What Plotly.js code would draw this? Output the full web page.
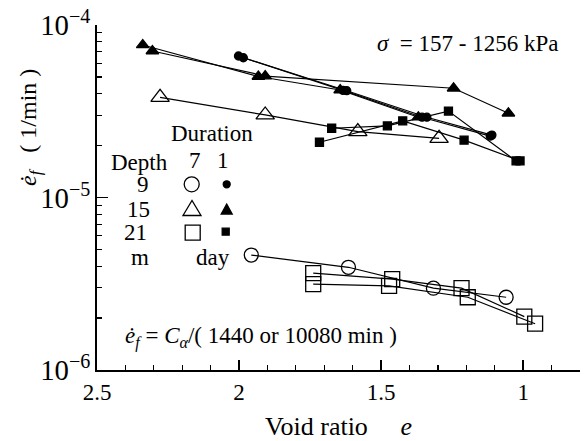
<!DOCTYPE html>
<html><head><meta charset="utf-8">
<script src="https://cdn.plot.ly/plotly-3.0.1.min.js"></script>
<style>html,body{margin:0;padding:0;background:#fff;}</style>
</head><body>
<div id="chart" style="width:586px;height:441px;"></div>
<script>
// ---- data (void ratio e, strain rate 1/min) ----
const d9_7_x  = [1.957, 1.615, 1.316, 1.060];
const d9_7_y  = [4.64e-6, 3.94e-6, 2.98e-6, 2.64e-6];
const d9_1a_x = [2.002, 1.634, 1.356, 1.116];
const d9_1a_y = [6.61e-5, 4.18e-5, 2.92e-5, 2.27e-5];
const d9_1b_x = [1.985, 1.621, 1.339, 1.110];
const d9_1b_y = [6.46e-5, 4.16e-5, 2.92e-5, 2.30e-5];
const d15_7_x  = [2.278, 1.908, 1.582, 1.296];
const d15_7_y  = [3.81e-5, 3.01e-5, 2.41e-5, 2.20e-5];
const d15_1a_x = [2.339, 1.932, 1.644, 1.369];
const d15_1a_y = [7.66e-5, 5.03e-5, 4.20e-5, 2.92e-5];
const d15_1b_x = [2.305, 1.908, 1.245, 1.052];
const d15_1b_y = [7.07e-5, 5.06e-5, 4.30e-5, 3.08e-5];
const d21_7a_x = [1.739, 1.461, 1.217, 0.996];
const d21_7a_y = [3.64e-6, 3.36e-6, 2.98e-6, 2.04e-6];
const d21_7b_x = [1.739, 1.472, 1.195, 0.958];
const d21_7b_y = [3.15e-6, 3.07e-6, 2.64e-6, 1.855e-6];
const d21_1a_x = [1.674, 1.478, 1.263, 1.025];
const d21_1a_y = [2.52e-5, 2.60e-5, 3.17e-5, 1.63e-5];
const d21_1b_x = [1.717, 1.424, 1.208, 1.011];
const d21_1b_y = [2.09e-5, 2.78e-5, 2.15e-5, 1.63e-5];
const xTickVals = [2.5, 2, 1.5, 1];
const xTickText = ['2.5', '2', '1.5', '1'];

const FONT = '"Liberation Serif", "Times New Roman", "DejaVu Serif", serif';
const L = 97, R = 580, T = 25, B = 370;
const px = x => (x - L) / (R - L);
const py = y => (B - y) / (B - T);

function tr(x, y, sym, size, lw) {
  return {x: x, y: y, type: 'scatter', mode: 'lines+markers', showlegend: false,
    line: {color: '#000', width: 1.2},
    marker: {symbol: sym, size: size, color: '#000', line: {color: '#000', width: lw || 1.3}}};
}
const traces = [
  tr(d9_7_x, d9_7_y, 'circle-open', 14),
  tr(d9_1a_x, d9_1a_y, 'circle', 8, 0),
  tr(d9_1b_x, d9_1b_y, 'circle', 8, 0),
  tr(d15_7_x, d15_7_y, 'triangle-up-open', 16),
  tr(d15_1a_x, d15_1a_y, 'triangle-up', 11, 0),
  tr(d15_1b_x, d15_1b_y, 'triangle-up', 11, 0),
  tr(d21_7a_x, d21_7a_y, 'square-open', 15),
  tr(d21_7b_x, d21_7b_y, 'square-open', 15),
  tr(d21_1a_x, d21_1a_y, 'square', 8, 0),
  tr(d21_1b_x, d21_1b_y, 'square', 8, 0)
];

function ann(text, x, y, xa, size, extra) {
  return Object.assign({text: text, x: px(x), y: py(y), xref: 'paper', yref: 'paper',
    xanchor: xa || 'center', yanchor: 'middle', showarrow: false,
    font: {family: FONT, size: size || 23, color: '#000'}}, extra || {});
}
const annotations = [
  ann('<i>σ</i>  = 157 - 1256 kPa', 467, 43),
  ann('Duration', 212, 133),
  ann('Depth', 139, 162),
  ann('7', 195, 160),
  ann('1', 223, 160),
  ann('9', 143, 185),
  ann('15', 138, 209),
  ann('21', 135, 233),
  ann('m', 140, 257),
  ann('day', 213, 257),
  ann('<i>ė</i><sub><i>f</i></sub> = <i>C</i><sub><i>α</i></sub>/( 1440 or 10080 min )', 123, 337, 'left'),
  ann('<i>ė</i><sub><i>f</i></sub>\u00a0\u00a0\u00a0( 1/min )', 30, 128, 'center', 24, {textangle: -90})
];

// legend symbols (layout decoration)
function circ(cx, cy, d, filled) {
  const rx = d / 2 / (R - L), ry = d / 2 / (B - T);
  return {type: 'circle', xref: 'paper', yref: 'paper', x0: px(cx) - rx, x1: px(cx) + rx,
    y0: py(cy) - ry, y1: py(cy) + ry, line: {color: '#000', width: 1.3},
    fillcolor: filled ? '#000' : 'rgba(0,0,0,0)'};
}
function rect(cx, cy, s, filled) {
  const rx = s / 2 / (R - L), ry = s / 2 / (B - T);
  return {type: 'rect', xref: 'paper', yref: 'paper', x0: px(cx) - rx, x1: px(cx) + rx,
    y0: py(cy) - ry, y1: py(cy) + ry, line: {color: '#000', width: 1.3},
    fillcolor: filled ? '#000' : 'rgba(0,0,0,0)'};
}
function tri(cx, cy, w, h, filled) {
  const x0 = px(cx - w / 2), x1 = px(cx + w / 2), xm = px(cx);
  const yb = py(cy + h / 2), yt = py(cy - h / 2);
  return {type: 'path', xref: 'paper', yref: 'paper',
    path: `M${x0},${yb} L${x1},${yb} L${xm},${yt} Z`,
    line: {color: '#000', width: 1.3}, fillcolor: filled ? '#000' : 'rgba(0,0,0,0)'};
}
const shapes = [
  circ(191.7, 184.3, 15, false), circ(226.7, 184.3, 7, true),
  tri(192, 208, 18, 15, false), tri(226.7, 209, 11, 10, true),
  rect(192.7, 232.7, 15, false), rect(225.7, 231.7, 7, true)
];

const layout = {
  width: 586, height: 441,
  margin: {l: L, r: 586 - R, t: T, b: 441 - B},
  paper_bgcolor: '#fff', plot_bgcolor: '#fff',
  font: {family: FONT, size: 23, color: '#000'},
  showlegend: false,
  xaxis: {
    range: [2.5, 0.8], showgrid: false, zeroline: false,
    showline: true, linecolor: '#000', linewidth: 2,
    ticks: 'inside', ticklen: 10, tickwidth: 1.5, tickcolor: '#000',
    tickmode: 'array', tickvals: xTickVals, ticktext: xTickText,
    tickfont: {family: FONT, size: 23},
    minor: {dtick: 0.1, tick0: 0, ticks: 'inside', ticklen: 5, tickwidth: 1.2, tickcolor: '#000', showgrid: false},
    title: {text: 'Void ratio\u00a0\u00a0\u00a0\u00a0\u00a0<i>e</i>', font: {family: FONT, size: 26}, standoff: 16}
  },
  yaxis: {
    type: 'log', range: [-6, -4], showgrid: false, zeroline: false,
    showline: true, linecolor: '#000', linewidth: 2,
    ticks: 'inside', ticklen: 11, tickwidth: 1.5, tickcolor: '#000',
    dtick: 1, tick0: 0, exponentformat: 'power',
    tickfont: {family: FONT, size: 23},
    minor: {ticks: 'inside', ticklen: 5, tickwidth: 1.2, tickcolor: '#000', showgrid: false}
  },
  annotations: annotations,
  shapes: shapes
};
Plotly.newPlot('chart', traces, layout, {staticPlot: true, displayModeBar: false});
</script>
</body></html>
